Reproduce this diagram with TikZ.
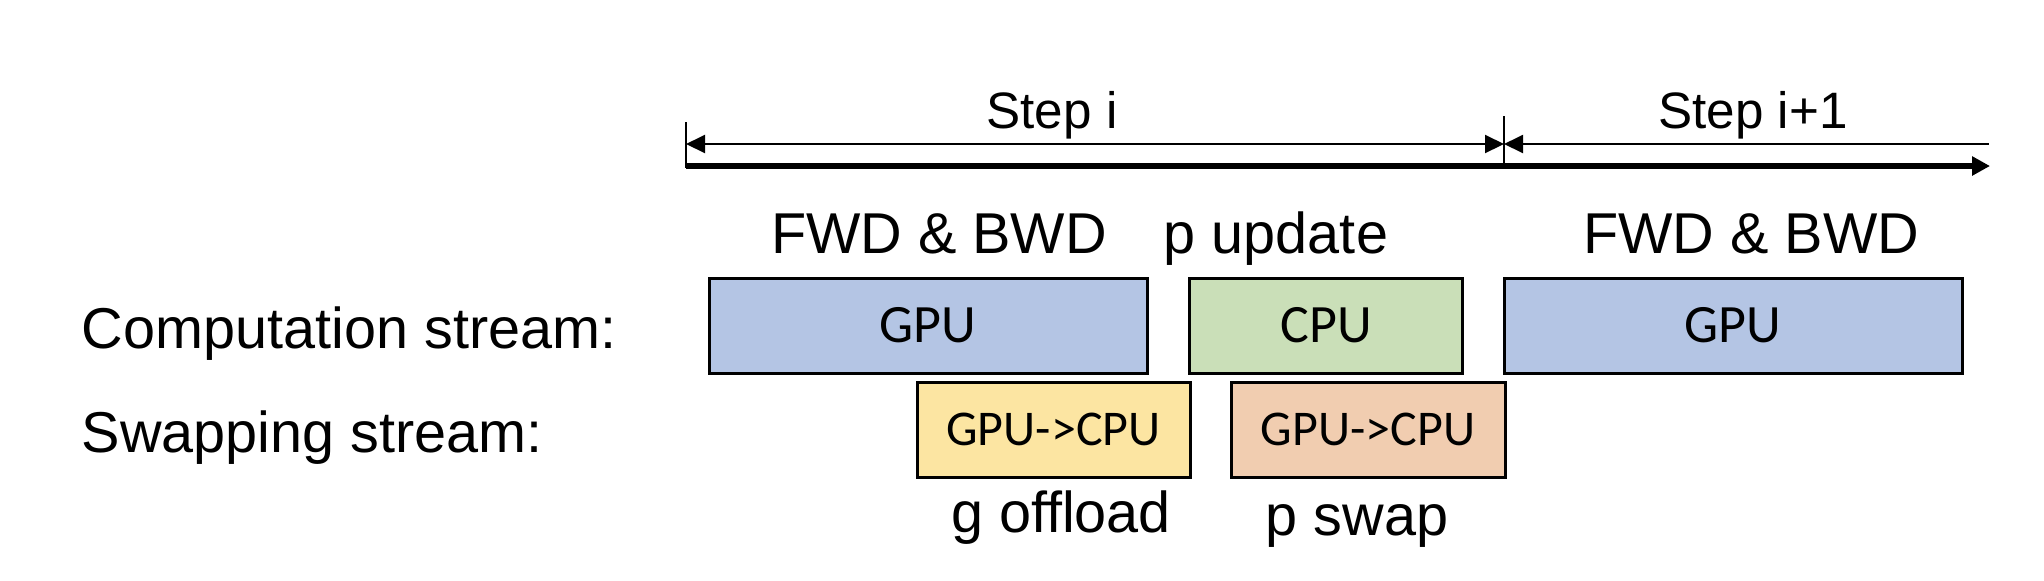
\documentclass[tikz,border=0pt]{standalone}
\usepackage{fontspec}
\setmainfont{Liberation Sans}
\newfontfamily\boxfont{Carlito}
\usetikzlibrary{arrows.meta}
\definecolor{gpublue}{HTML}{B4C5E4}
\definecolor{cpugreen}{HTML}{CADFB8}
\definecolor{offyellow}{HTML}{FCE5A2}
\definecolor{swaporange}{HTML}{F1CDB0}
\begin{document}
\begin{tikzpicture}[x=0.25pt,y=-0.25pt,
  blk/.style={draw=black, line width=0.75pt, inner sep=0pt, outer sep=0pt,
    minimum height=23.75pt, font=\boxfont\fontsize{13.5pt}{15pt}\selectfont},
  swp/.style={blk, font=\boxfont\fontsize{12.5pt}{14pt}\selectfont},
  lbl/.style={inner sep=0pt, font=\fontsize{14.4pt}{17pt}\selectfont},
  steplbl/.style={inner sep=0pt, font=\fontsize{12.8pt}{15pt}\selectfont},
  dimarrow/.style={line width=0.5pt, -{Triangle[length=4.75pt,width=4.5pt]}},
  timearrow/.style={line width=1.5pt, -{Triangle[length=4.5pt,width=4.6pt]}},
  tick/.style={line width=0.5pt}]
\useasboundingbox (0,0) rectangle (2044,580);

% timeline
\coordinate (t0top) at (686,122);
\coordinate (t0bot) at (686,168);
\coordinate (t1top) at (1504,116);
\coordinate (t1bot) at (1504,163);
\coordinate (a0) at (686,144);
\coordinate (a1) at (1504,144);
\coordinate (a2) at (1989,144);
\coordinate (ts) at (686,166);
\coordinate (te) at (1990,166);

\draw[tick] (t0top) -- (t0bot);
\draw[tick] (t1top) -- (t1bot);
\draw[dimarrow, {Triangle[length=4.75pt,width=4.5pt]}-{Triangle[length=4.75pt,width=4.5pt]}] (a0) -- (a1);
\draw[line width=0.5pt, {Triangle[length=4.75pt,width=4.5pt]}-] (a1) -- (a2);
\draw[timearrow] (ts) -- (te);

\node[steplbl, anchor=base] (stepi) at (1052,128) {Step i};
\node[steplbl, anchor=base] (stepii) at (1753,128) {Step i+1};

% row labels
\node[lbl, anchor=base west] (comp) at (81,348) {Computation stream:};
\node[lbl, anchor=base west] (swap) at (81,452) {Swapping stream:};

% phase labels
\node[lbl, anchor=base] (fb1) at (939,253) {FWD \& BWD};
\node[lbl, anchor=base] (pup) at (1276,253) {p update};
\node[lbl, anchor=base] (fb2) at (1751,253) {FWD \& BWD};
\node[lbl, anchor=base] (goff) at (1061,532) {g offload};
\node[lbl, anchor=base] (pswap) at (1357,535) {p swap};

% blocks
\node[blk, fill=gpublue, minimum width=109.5pt] (gpu1) at (928,325.5) {GPU};
\node[blk, fill=cpugreen, minimum width=68.25pt] (cpu) at (1326,325.5) {CPU};
\node[blk, fill=gpublue, minimum width=114.5pt] (gpu2) at (1733,325.5) {GPU};
\node[swp, fill=offyellow, minimum width=68.25pt] (g2c1) at (1053.5,429.5) {GPU->CPU};
\node[swp, fill=swaporange, minimum width=68.5pt] (g2c2) at (1368,429.5) {GPU->CPU};
\end{tikzpicture}
\end{document}
